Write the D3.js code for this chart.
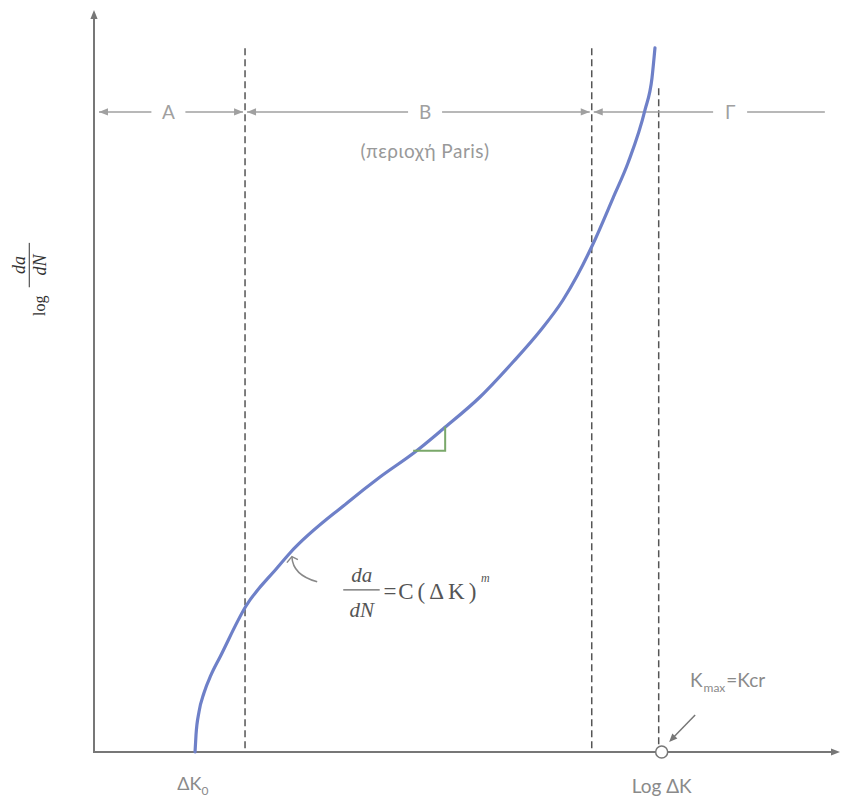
<!DOCTYPE html>
<html>
<head>
<meta charset="utf-8">
<script src="https://cdn.jsdelivr.net/npm/d3@7"></script>
<style>
  body { margin: 0; background: #fff; }
  svg { display: block; }
</style>
</head>
<body>
<div id="chart"></div>
<script>
// schematic crack growth curve, log da/dN vs log dK (arbitrary units 0..10)
const curveX = [1.358, 1.371, 1.411, 1.478, 1.573, 1.694, 2.043, 2.460, 2.634, 3.401, 3.844, 4.315, 4.691,
                5.188, 5.632, 5.995, 6.304, 6.492, 6.707, 6.976, 7.177, 7.406, 7.500, 7.540];
const curveY = [0.000, 0.230, 0.541, 0.797, 1.041, 1.284, 1.973, 2.486, 2.689, 3.365, 3.716, 4.054, 4.365,
                4.797, 5.270, 5.689, 6.108, 6.432, 6.865, 7.486, 7.959, 8.676, 9.108, 9.514];

const boundaryX   = [2.03, 6.69, 7.59];
const boundaryTop = [9.51, 9.51, 8.97];

const regionNames  = ["A", "B", "Γ"];
const regionEdges  = [0.04, 2.03, 6.69, 9.85];
const regionLabelX = [1.0, 4.45, 8.55];
const regionY = 8.65;

const critX = 7.63;   // K_max = Kcr on the axis

const WIDTH = 843, HEIGHT = 799;
const x = d3.scaleLinear().domain([0, 10]).range([94, 838]);
const y = d3.scaleLinear().domain([0, 10]).range([752, 12]);

const svg = d3.select("#chart").append("svg")
    .attr("width", WIDTH)
    .attr("height", HEIGHT);

const grey = "#8a8a8a";
const sans = "Lato, 'Open Sans', sans-serif";
const serif = "'Liberation Serif', 'DejaVu Serif', serif";

function arrowHead(g, tipX, tipY, dir, size, color) {
    // dir: 'left' | 'right' | 'up'
    let pts;
    if (dir === 'left') pts = [[tipX, tipY], [tipX + size, tipY - size * 0.4], [tipX + size, tipY + size * 0.4]];
    else if (dir === 'right') pts = [[tipX, tipY], [tipX - size, tipY - size * 0.4], [tipX - size, tipY + size * 0.4]];
    else pts = [[tipX, tipY], [tipX - size * 0.4, tipY + size], [tipX + size * 0.4, tipY + size]];
    g.append("path")
        .attr("d", d3.line()(pts) + "Z")
        .attr("fill", color);
}

// axes
const axes = svg.append("g");
axes.append("line")
    .attr("x1", x(0)).attr("y1", y(0))
    .attr("x2", x(0)).attr("y2", y(10) + 4)
    .attr("stroke", "#777").attr("stroke-width", 2);
arrowHead(axes, x(0), y(10) - 2, 'up', 9, "#777");
axes.append("line")
    .attr("x1", x(0) - 1).attr("y1", y(0))
    .attr("x2", x(10) - 4).attr("y2", y(0))
    .attr("stroke", "#777").attr("stroke-width", 2);
arrowHead(axes, x(10) + 2, y(0), 'right', 9, "#777");

// dashed region boundaries
svg.append("g").selectAll("line")
    .data(boundaryX)
    .enter()
    .append("line")
    .attr("x1", d => x(d)).attr("x2", d => x(d))
    .attr("y1", (d, i) => y(boundaryTop[i]))
    .attr("y2", y(0))
    .attr("stroke", "#555")
    .attr("stroke-width", 1.5)
    .attr("stroke-dasharray", "7,4");

// region arrows A / B / Γ
const reg = svg.append("g");
regionNames.forEach((name, i) => {
    const x0 = x(regionEdges[i]) + 2, x1 = x(regionEdges[i + 1]) - 2;
    const lx = x(regionLabelX[i]), ry = y(regionY);
    const gap = 17;
    reg.append("line")
        .attr("x1", x0).attr("x2", lx - gap)
        .attr("y1", ry).attr("y2", ry)
        .attr("stroke", "#a0a0a0").attr("stroke-width", 1.5);
    reg.append("line")
        .attr("x1", lx + gap).attr("x2", x1)
        .attr("y1", ry).attr("y2", ry)
        .attr("stroke", "#a0a0a0").attr("stroke-width", 1.5);
    arrowHead(reg, x0, ry, 'left', 9, "#a0a0a0");
    if (i < regionNames.length - 1) arrowHead(reg, x1, ry, 'right', 9, "#a0a0a0");
    reg.append("text")
        .attr("x", lx).attr("y", ry + 7)
        .attr("text-anchor", "middle")
        .attr("font-family", sans)
        .attr("font-size", 19)
        .attr("fill", "#a0a0a0")
        .text(name);
});
reg.append("text")
    .attr("x", x(4.45)).attr("y", y(8.03))
    .attr("text-anchor", "middle")
    .attr("font-family", sans)
    .attr("font-size", 19)
    .attr("letter-spacing", 0.5)
    .attr("fill", "#999")
    .text("(περιοχή Paris)");

// the curve
const pts = curveX.map((d, i) => [d, curveY[i]]);
svg.append("path")
    .datum(pts)
    .attr("d", d3.line().x(d => x(d[0])).y(d => y(d[1])).curve(d3.curveMonotoneX))
    .attr("fill", "none")
    .attr("stroke", "#6e80c8")
    .attr("stroke-width", 3.2)
    .attr("stroke-linecap", "round");

// slope triangle (green)
svg.append("path")
    .attr("d", d3.line()([[x(4.29), y(4.07)], [x(4.72), y(4.07)], [x(4.72), y(4.40)]]))
    .attr("fill", "none")
    .attr("stroke", "#7aa86a")
    .attr("stroke-width", 2);

// Paris law formula + leader
const leader = d3.path();
leader.moveTo(x(2.66), y(2.64));
leader.quadraticCurveTo(x(2.67), y(2.39), x(3.00), y(2.30));
svg.append("path")
    .attr("d", leader.toString())
    .attr("fill", "none")
    .attr("stroke", "#888")
    .attr("stroke-width", 1.5);
svg.append("path")
    .attr("d", d3.line()([[x(2.66) - 5, y(2.64) + 6], [x(2.66), y(2.64)], [x(2.66) + 6, y(2.64) + 3]]))
    .attr("fill", "none")
    .attr("stroke", "#888")
    .attr("stroke-width", 1.5);

const f = svg.append("g").attr("font-family", serif).attr("fill", "#555");
f.append("text")
    .attr("x", x(3.60)).attr("y", y(2.30))
    .attr("text-anchor", "middle")
    .attr("font-style", "italic").attr("font-size", 21)
    .text("da");
f.append("line")
    .attr("x1", x(3.35)).attr("x2", x(3.84))
    .attr("y1", y(2.19)).attr("y2", y(2.19))
    .attr("stroke", "#666").attr("stroke-width", 1.2);
f.append("text")
    .attr("x", x(3.60)).attr("y", y(1.82))
    .attr("text-anchor", "middle")
    .attr("font-style", "italic").attr("font-size", 21)
    .text("dN");
f.append("text")
    .attr("x", x(3.89)).attr("y", y(2.07))
    .attr("font-size", 23)
    .text("=");
// letter-spacing on the first four glyphs only, so the box ends at ")"
const cf = f.append("text")
    .attr("x", x(4.09)).attr("y", y(2.07))
    .attr("font-size", 23);
cf.append("tspan").attr("letter-spacing", 4).text("C(ΔK");
cf.append("tspan").text(")");
f.append("text")
    .attr("x", x(5.20)).attr("y", y(2.30))
    .attr("font-style", "italic")
    .attr("font-size", 12)
    .text("m");

// y label: log da/dN, rotated
const yl = svg.append("g")
    .attr("transform", "rotate(-90)")
    .attr("font-family", serif)
    .attr("fill", "#333");
yl.append("text")
    .attr("x", -y(6.03)).attr("y", x(-0.66))
    .attr("text-anchor", "middle")
    .attr("font-size", 16)
    .text("log");
yl.append("text")
    .attr("x", -y(6.58)).attr("y", x(-0.93))
    .attr("text-anchor", "middle")
    .attr("font-style", "italic").attr("font-size", 18)
    .text("da");
yl.append("line")
    .attr("x1", -y(6.28)).attr("x2", -y(6.88))
    .attr("y1", x(-0.87)).attr("y2", x(-0.87))
    .attr("stroke", "#333").attr("stroke-width", 1);
yl.append("text")
    .attr("x", -y(6.58)).attr("y", x(-0.645))
    .attr("text-anchor", "middle")
    .attr("font-style", "italic").attr("font-size", 18)
    .text("dN");

// K_max = Kcr marker
svg.append("line")
    .attr("x1", x(8.08)).attr("y1", y(0.50))
    .attr("x2", x(7.76)).attr("y2", y(0.17))
    .attr("stroke", "#777").attr("stroke-width", 1.5);
(function () {
    const tx = x(7.73), ty = y(0.135);
    const ang = Math.atan2(ty - y(0.50), tx - x(8.08));
    const s = 9;
    const p = [[tx, ty],
               [tx - s * Math.cos(ang - 0.4), ty - s * Math.sin(ang - 0.4)],
               [tx - s * Math.cos(ang + 0.4), ty - s * Math.sin(ang + 0.4)]];
    svg.append("path").attr("d", d3.line()(p) + "Z").attr("fill", "#777");
})();
svg.append("circle")
    .attr("cx", x(critX)).attr("cy", y(0))
    .attr("r", 6)
    .attr("fill", "#fff")
    .attr("stroke", "#777")
    .attr("stroke-width", 1.5);

const kt = svg.append("text")
    .attr("x", x(8.01)).attr("y", y(0.88))
    .attr("font-family", sans)
    .attr("font-size", 19)
    .attr("fill", grey);
kt.append("tspan").text("K");
kt.append("tspan").attr("font-size", 12).attr("dy", 5).attr("dx", 1).text("max");
kt.append("tspan").attr("dy", -5).attr("dx", 1).text("=Kcr");

// x labels
svg.append("text")
    .attr("x", x(7.63)).attr("y", y(-0.55))
    .attr("text-anchor", "middle")
    .attr("font-family", sans)
    .attr("font-size", 19)
    .attr("fill", grey)
    .text("Log ΔK");
const k0 = svg.append("text")
    .attr("x", x(1.12)).attr("y", y(-0.51))
    .attr("font-family", sans)
    .attr("font-size", 18)
    .attr("fill", grey);
k0.append("tspan").text("ΔK");
k0.append("tspan").attr("font-size", 12).attr("dy", 5).text("0");
</script>
</body>
</html>
